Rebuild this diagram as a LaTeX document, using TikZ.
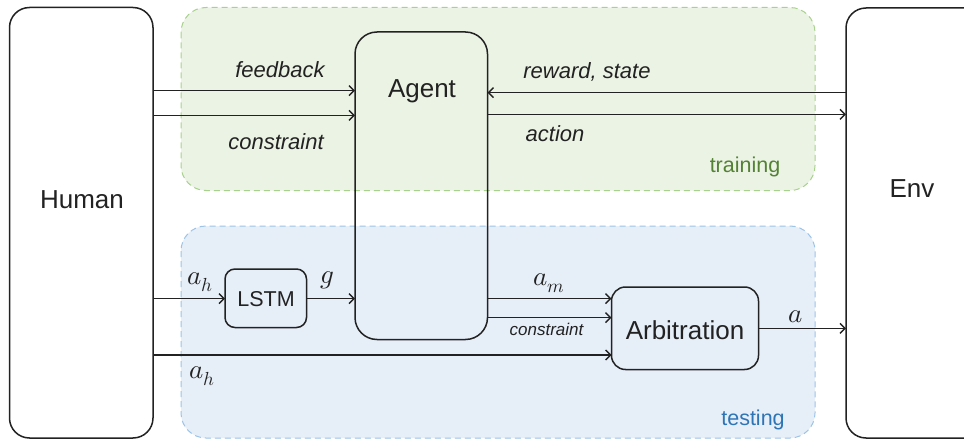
\documentclass[tikz,border=0pt]{standalone}
\usepackage{fontspec}
\setmainfont{Liberation Sans}
\usepackage{unicode-math}
\setmathfont{Latin Modern Math}
\usetikzlibrary{arrows.meta}

\definecolor{ink}{HTML}{222222}
\definecolor{trainfill}{HTML}{EBF3E4}
\definecolor{trainedge}{HTML}{A9D18E}
\definecolor{traintext}{HTML}{548235}
\definecolor{testfill}{HTML}{E6EEF8}
\definecolor{testedge}{HTML}{9DC3E6}
\definecolor{testtext}{HTML}{2E75B6}

\tikzset{
  box/.style={draw=ink, line width=1.5pt, inner sep=0pt},
  region/.style={line width=1pt, dash pattern=on 6pt off 4pt, rounded corners=25pt},
  flow/.style={draw=ink, line width=1.5pt, -{Straight Barb[length=5pt,width=10pt,line width=1.4pt]}},
  lbl/.style={font=\fontsize{22}{24}\selectfont\itshape, text=ink, inner sep=0pt},
  sml/.style={font=\fontsize{17}{20}\selectfont\itshape, text=ink, inner sep=0pt},
  big/.style={font=\fontsize{26}{30}\selectfont, text=ink},
  mlbl/.style={font=\fontsize{27}{29}\selectfont, text=ink, inner sep=0pt},
}

\begin{document}
\begin{tikzpicture}[x=1pt, y=-1pt]
\useasboundingbox (0,0) rectangle (964,441);
\clip (0,0) rectangle (964,441);

% training and testing regions
\draw[region, fill=trainfill, draw=trainedge] (181,7.5) rectangle (815,190.5);
\draw[region, fill=testfill, draw=testedge] (181,226) rectangle (815,438);
\node[font=\fontsize{21.5}{24}\selectfont, text=traintext] (trainlbl) at (745,167) {training};
\node[font=\fontsize{21.5}{24}\selectfont, text=testtext] (testlbl) at (753,420) {testing};

% main blocks
\draw[box, fill=white, rounded corners=20pt] (9.5,7.5) rectangle (153,438);
\node[big] (human) at (82,200) {Human};

\draw[box, fill=white, rounded corners=20pt] (846,8) rectangle (985,438);
\node[big] (env) at (912,189) {Env};

\draw[box, rounded corners=22pt] (355,32) rectangle (487.5,339.5);
\node[big] (agent) at (422,91) {Agent};

\draw[box, rounded corners=10pt] (225,269) rectangle (306.5,327.5);
\node[font=\fontsize{21.5}{24}\selectfont, text=ink] (lstm) at (266,299) {LSTM};

\draw[box, rounded corners=14pt] (611.5,287) rectangle (758.5,369.5);
\node[big] (arb) at (685,330) {Arbitration};

% anchor points on block edges
\coordinate (hA) at (153,90.7);
\coordinate (hB) at (153,115.3);
\coordinate (aL1) at (355,90.7);
\coordinate (aL2) at (355,115.3);
\coordinate (aR1) at (487.5,92.7);
\coordinate (aR2) at (487.5,114.3);
\coordinate (eL1) at (846,92.7);
\coordinate (eL2) at (846,114.3);
\coordinate (hC) at (153,298.7);
\coordinate (lL) at (225,298.7);
\coordinate (lR) at (306.5,298.7);
\coordinate (aL3) at (355,298.7);
\coordinate (aR3) at (487.5,298.7);
\coordinate (aR4) at (487.5,317.7);
\coordinate (bL1) at (611.5,298.7);
\coordinate (bL2) at (611.5,317.7);
\coordinate (hD) at (153,355);
\coordinate (bL3) at (611.5,355);
\coordinate (bR) at (758.5,328.3);
\coordinate (eL3) at (846,328.3);

% training flows
\draw[flow] (hA) -- (aL1);
\draw[flow] (hB) -- (aL2);
\draw[flow] (eL1) -- (aR1);
\draw[flow] (aR2) -- (eL2);
\node[lbl] (fb) at (280,70) {feedback};
\node[lbl] (cons) at (276,142) {constraint};
\node[lbl] (rs) at (587,72) {reward, state};
\node[lbl] (act) at (555,134) {action};

% testing flows
\draw[flow] (hC) -- (lL);
\draw[flow] (lR) -- (aL3);
\draw[flow] (aR3) -- (bL1);
\draw[flow] (aR4) -- (bL2);
\draw[flow] (hD) -- (bL3);
\draw[flow] (bR) -- (eL3);
\node[mlbl] (ah1) at (200,282) {$a_h$};
\node[mlbl] (gl) at (327,280) {$g$};
\node[mlbl] (am) at (549,283) {$a_m$};
\node[sml] (cons2) at (546.5,329) {constraint};
\node[mlbl] (al) at (796,317) {$a$};
\node[mlbl] (ah2) at (202,376) {$a_h$};
\end{tikzpicture}
\end{document}
